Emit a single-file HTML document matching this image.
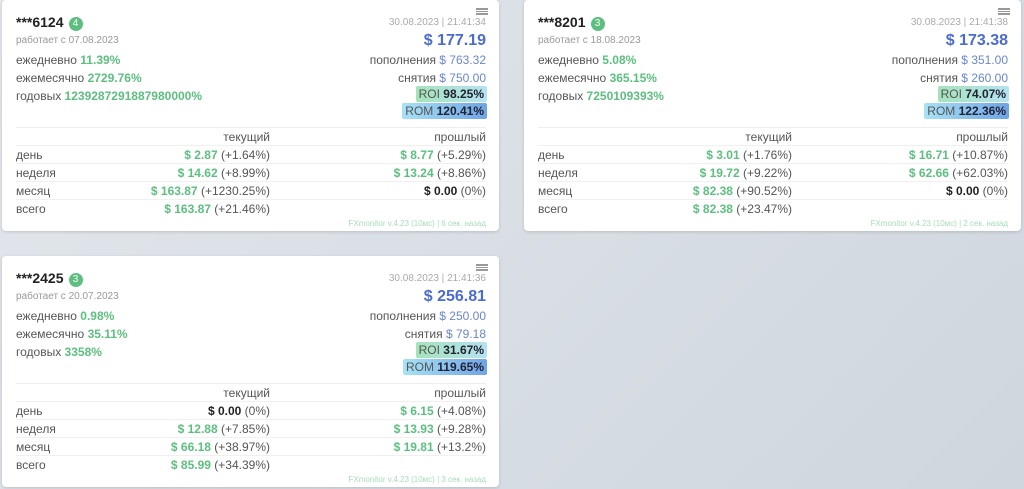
<!DOCTYPE html>
<html><head><meta charset="utf-8">
<style>
*{margin:0;padding:0;box-sizing:border-box}
body{width:1024px;height:489px;overflow:hidden;background:linear-gradient(135deg,#e3e7ec,#cfd6de);font-family:"Liberation Sans","DejaVu Sans",sans-serif;position:relative}
.card{position:absolute;width:497px;height:231px;background:#fff;border-radius:4px;box-shadow:0 1px 3px rgba(0,0,0,.15)}
.a{position:absolute;white-space:nowrap}
.r{right:13px;text-align:right}
.title{left:14px;top:14px;font-size:14px;font-weight:bold;color:#222}
.badge{display:inline-block;width:14px;height:14px;border-radius:7px;background:#5cbf7f;color:#fff;font-size:10px;text-align:center;line-height:14px;margin-left:5px;vertical-align:1px;font-weight:normal}
.menu{right:11px;top:8px;width:12px;height:7px;border-top:2px solid #999;border-bottom:2px solid #999}
.menu:after{content:"";position:absolute;left:0;right:0;top:1px;border-top:1px solid #999}
.date{top:17px;font-size:10px;color:#aaa}
.since{left:14px;top:35px;font-size:10px;color:#999}
.big{top:32px;font-size:16px;font-weight:bold;color:#4b6ccf}
.l{left:14px;font-size:12px;color:#555}
.g{color:#5cbf7f;font-weight:bold}
.bl{color:#6a86d0}
.t12{font-size:12px;color:#555}
.roi{top:86px;font-size:12px;padding:1px 3px;border-radius:2px;background:linear-gradient(90deg,#a6e3bb,#b5e2f0);color:#555;right:12px}
.rom{top:103px;font-size:12px;padding:1px 3px;border-radius:2px;background:linear-gradient(90deg,#a8e2f5,#6fa4e6);color:#555;right:12px}
.roi b,.rom b{color:#223}
.sep{left:14px;right:13px;height:0;border-top:1px solid #eee}
.row{left:14px;right:13px;height:18px;font-size:12px;color:#555;border-bottom:1px solid #f0f0f0}
.row span{position:absolute;top:2px}
.c1{right:216px}
.c2{right:0}
.dk{color:#222;font-weight:bold}
.foot{top:219px;font-size:8px;color:#a8dcb9}
</style></head><body>

<div class="card" style="left:2px;top:0">
 <div class="a title">***6124<span class="badge">4</span></div>
 <div class="a menu"></div>
 <div class="a r date">30.08.2023 | 21:41:34</div>
 <div class="a since">работает с 07.08.2023</div>
 <div class="a r big">$ 177.19</div>
 <div class="a l" style="top:53px">ежедневно <span class="g">11.39%</span></div>
 <div class="a l" style="top:71px">ежемесячно <span class="g">2729.76%</span></div>
 <div class="a l" style="top:89px">годовых <span class="g">1239287291887980000%</span></div>
 <div class="a r t12" style="top:53px">пополнения <span class="bl">$ 763.32</span></div>
 <div class="a r t12" style="top:71px">снятия <span class="bl">$ 750.00</span></div>
 <div class="a roi">ROI <b>98.25%</b></div>
 <div class="a rom">ROM <b>120.41%</b></div>
 <div class="a sep" style="top:127px"></div>
 <div class="a row" style="top:128px"><span class="c1">текущий</span><span class="c2">прошлый</span></div>
 <div class="a row" style="top:146px"><span style="left:0">день</span><span class="c1"><span class="g" style="position:static">$ 2.87</span> (+1.64%)</span><span class="c2"><span class="g" style="position:static">$ 8.77</span> (+5.29%)</span></div>
 <div class="a row" style="top:164px"><span style="left:0">неделя</span><span class="c1"><span class="g" style="position:static">$ 14.62</span> (+8.99%)</span><span class="c2"><span class="g" style="position:static">$ 13.24</span> (+8.86%)</span></div>
 <div class="a row" style="top:182px"><span style="left:0">месяц</span><span class="c1"><span class="g" style="position:static">$ 163.87</span> (+1230.25%)</span><span class="c2"><span class="dk" style="position:static">$ 0.00</span> (0%)</span></div>
 <div class="a row" style="top:200px;border:none"><span style="left:0">всего</span><span class="c1"><span class="g" style="position:static">$ 163.87</span> (+21.46%)</span></div>
 <div class="a r foot">FXmonitor v.4.23 (10мс) | 6 сек. назад</div>
</div>

<div class="card" style="left:524px;top:0">
 <div class="a title">***8201<span class="badge">3</span></div>
 <div class="a menu"></div>
 <div class="a r date">30.08.2023 | 21:41:38</div>
 <div class="a since">работает с 18.08.2023</div>
 <div class="a r big">$ 173.38</div>
 <div class="a l" style="top:53px">ежедневно <span class="g">5.08%</span></div>
 <div class="a l" style="top:71px">ежемесячно <span class="g">365.15%</span></div>
 <div class="a l" style="top:89px">годовых <span class="g">7250109393%</span></div>
 <div class="a r t12" style="top:53px">пополнения <span class="bl">$ 351.00</span></div>
 <div class="a r t12" style="top:71px">снятия <span class="bl">$ 260.00</span></div>
 <div class="a roi">ROI <b>74.07%</b></div>
 <div class="a rom">ROM <b>122.36%</b></div>
 <div class="a sep" style="top:127px"></div>
 <div class="a row" style="top:128px"><span class="c1">текущий</span><span class="c2">прошлый</span></div>
 <div class="a row" style="top:146px"><span style="left:0">день</span><span class="c1"><span class="g" style="position:static">$ 3.01</span> (+1.76%)</span><span class="c2"><span class="g" style="position:static">$ 16.71</span> (+10.87%)</span></div>
 <div class="a row" style="top:164px"><span style="left:0">неделя</span><span class="c1"><span class="g" style="position:static">$ 19.72</span> (+9.22%)</span><span class="c2"><span class="g" style="position:static">$ 62.66</span> (+62.03%)</span></div>
 <div class="a row" style="top:182px"><span style="left:0">месяц</span><span class="c1"><span class="g" style="position:static">$ 82.38</span> (+90.52%)</span><span class="c2"><span class="dk" style="position:static">$ 0.00</span> (0%)</span></div>
 <div class="a row" style="top:200px;border:none"><span style="left:0">всего</span><span class="c1"><span class="g" style="position:static">$ 82.38</span> (+23.47%)</span></div>
 <div class="a r foot">FXmonitor v.4.23 (10мс) | 2 сек. назад</div>
</div>

<div class="card" style="left:2px;top:256px">
 <div class="a title">***2425<span class="badge">3</span></div>
 <div class="a menu"></div>
 <div class="a r date">30.08.2023 | 21:41:36</div>
 <div class="a since">работает с 20.07.2023</div>
 <div class="a r big">$ 256.81</div>
 <div class="a l" style="top:53px">ежедневно <span class="g">0.98%</span></div>
 <div class="a l" style="top:71px">ежемесячно <span class="g">35.11%</span></div>
 <div class="a l" style="top:89px">годовых <span class="g">3358%</span></div>
 <div class="a r t12" style="top:53px">пополнения <span class="bl">$ 250.00</span></div>
 <div class="a r t12" style="top:71px">снятия <span class="bl">$ 79.18</span></div>
 <div class="a roi">ROI <b>31.67%</b></div>
 <div class="a rom">ROM <b>119.65%</b></div>
 <div class="a sep" style="top:127px"></div>
 <div class="a row" style="top:128px"><span class="c1">текущий</span><span class="c2">прошлый</span></div>
 <div class="a row" style="top:146px"><span style="left:0">день</span><span class="c1"><span class="dk" style="position:static">$ 0.00</span> (0%)</span><span class="c2"><span class="g" style="position:static">$ 6.15</span> (+4.08%)</span></div>
 <div class="a row" style="top:164px"><span style="left:0">неделя</span><span class="c1"><span class="g" style="position:static">$ 12.88</span> (+7.85%)</span><span class="c2"><span class="g" style="position:static">$ 13.93</span> (+9.28%)</span></div>
 <div class="a row" style="top:182px"><span style="left:0">месяц</span><span class="c1"><span class="g" style="position:static">$ 66.18</span> (+38.97%)</span><span class="c2"><span class="g" style="position:static">$ 19.81</span> (+13.2%)</span></div>
 <div class="a row" style="top:200px;border:none"><span style="left:0">всего</span><span class="c1"><span class="g" style="position:static">$ 85.99</span> (+34.39%)</span></div>
 <div class="a r foot">FXmonitor v.4.23 (10мс) | 3 сек. назад</div>
</div>

</body></html>
